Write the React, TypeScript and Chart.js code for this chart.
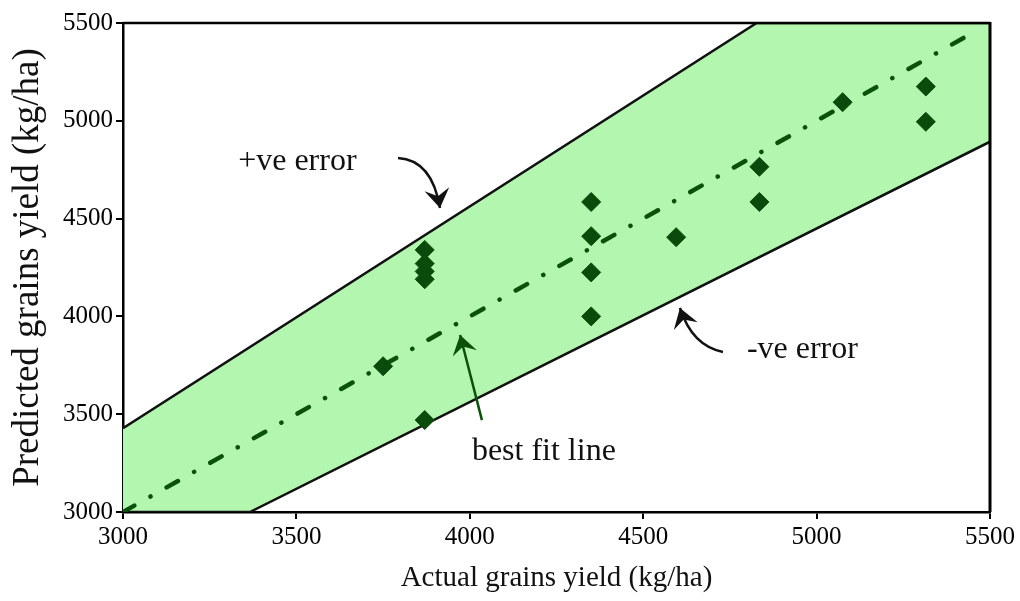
import React, { useEffect, useRef } from 'react';
import { Chart, registerables } from 'chart.js';

Chart.register(...registerables);

// Observed vs. predicted grain yield (kg/ha)
const actualYield = [3750, 3870, 3870, 3870, 3870, 3870, 4350, 4350, 4350, 4350, 4595, 4835, 4835, 5075, 5315, 5315];
const predictedYield = [3745, 3470, 4190, 4230, 4270, 4340, 4000, 4225, 4410, 4585, 4405, 4585, 4765, 5095, 4995, 5175];

// Error envelope (upper and lower bounds)
const upperErrorX = [3000, 4827, 5500];
const upperErrorY = [3428, 5500, 5500];
const lowerErrorX = [3000, 3366, 5500];
const lowerErrorY = [3000, 3000, 4893];

// 1:1 best fit line
const bestFitX = [3000, 5455];
const bestFitY = [3000, 5455];

const axisTicks = [3000, 3500, 4000, 4500, 5000, 5500];

const toPoints = (xs: number[], ys: number[]) => xs.map((x, i) => ({ x, y: ys[i] }));

const SERIF = "'Liberation Serif', 'Times New Roman', serif";
const BAND_GREEN = '#b3f6af';
const DARK_GREEN = '#0a520a';
const MARKER_GREEN = '#0a4a0a';

// Text notes and arrows, placed in data coordinates
const notes = [
  { text: '+ve error', x: 3332, y: 4749 },
  { text: '-ve error', x: 4799, y: 3787 },
  { text: 'best fit line', x: 4006, y: 3266 },
];

const arrows = [
  { from: [3793, 4810], ctrl: [3891, 4800], tip: [3914, 4554], color: '#111' },
  { from: [4730, 3818], ctrl: [4641, 3849], tip: [4606, 4043], color: '#111' },
  { from: [4035, 3470], ctrl: null, tip: [3972, 3905], color: DARK_GREEN },
];

function drawHead(ctx: CanvasRenderingContext2D, tx: number, ty: number, angle: number, color: string) {
  const len = 19;
  const half = 12.5;
  const notch = 7;
  ctx.save();
  ctx.translate(tx, ty);
  ctx.rotate(angle);
  ctx.beginPath();
  ctx.moveTo(0, 0);
  ctx.lineTo(-len, -half);
  ctx.lineTo(-len + notch, 0);
  ctx.lineTo(-len, half);
  ctx.closePath();
  ctx.fillStyle = color;
  ctx.fill();
  ctx.restore();
}

const notesPlugin = {
  id: 'notes',
  afterDatasetsDraw(chart: any) {
    const { ctx, chartArea, scales } = chart;
    const xs = scales.x;
    const ys = scales.y;

    // frame on the top and right sides
    ctx.save();
    ctx.strokeStyle = '#000';
    ctx.lineWidth = 2.5;
    ctx.beginPath();
    ctx.moveTo(chartArea.left, chartArea.top);
    ctx.lineTo(chartArea.right, chartArea.top);
    ctx.stroke();
    ctx.lineWidth = 3;
    ctx.beginPath();
    ctx.moveTo(chartArea.right, chartArea.top - 1);
    ctx.lineTo(chartArea.right, chartArea.bottom);
    ctx.stroke();
    ctx.restore();

    ctx.save();
    ctx.font = `32px ${SERIF}`;
    ctx.fillStyle = '#111';
    ctx.textBaseline = 'alphabetic';
    ctx.textAlign = 'left';
    notes.forEach((n) => {
      ctx.fillText(n.text, xs.getPixelForValue(n.x), ys.getPixelForValue(n.y));
    });

    arrows.forEach((a) => {
      const fx = xs.getPixelForValue(a.from[0]);
      const fy = ys.getPixelForValue(a.from[1]);
      const tx = xs.getPixelForValue(a.tip[0]);
      const ty = ys.getPixelForValue(a.tip[1]);
      let dirX = fx;
      let dirY = fy;
      ctx.strokeStyle = a.color;
      ctx.lineWidth = 2.5;
      ctx.beginPath();
      ctx.moveTo(fx, fy);
      if (a.ctrl) {
        const cx = xs.getPixelForValue(a.ctrl[0]);
        const cy = ys.getPixelForValue(a.ctrl[1]);
        ctx.quadraticCurveTo(cx, cy, tx, ty);
        dirX = cx;
        dirY = cy;
      } else {
        ctx.lineTo(tx, ty);
      }
      ctx.stroke();
      drawHead(ctx, tx, ty, Math.atan2(ty - dirY, tx - dirX), a.color);
    });
    ctx.restore();
  },
};

export default function App() {
  const canvasRef = useRef<HTMLCanvasElement | null>(null);

  useEffect(() => {
    document.body.style.margin = '0';
    const canvas = canvasRef.current;
    if (!canvas) return;

    const tickFont = { family: SERIF, size: 25 };

    const chart = new Chart(canvas, {
      type: 'line',
      data: {
        datasets: [
          {
            label: 'Error band',
            data: toPoints(upperErrorX, upperErrorY),
            borderColor: '#111',
            borderWidth: 2.5,
            backgroundColor: BAND_GREEN,
            fill: '+1',
            pointRadius: 0,
            tension: 0,
            order: 3,
          },
          {
            label: 'Lower bound',
            data: toPoints(lowerErrorX, lowerErrorY),
            borderColor: '#111',
            borderWidth: 2.5,
            fill: false,
            pointRadius: 0,
            tension: 0,
            order: 2,
          },
          {
            label: 'Best fit',
            data: toPoints(bestFitX, bestFitY),
            borderColor: DARK_GREEN,
            borderWidth: 4.5,
            borderDash: [13, 18.5, 0.1, 18.5],
            borderCapStyle: 'round',
            fill: false,
            pointRadius: 0,
            order: 1,
          },
          {
            label: 'Predicted',
            data: toPoints(actualYield, predictedYield),
            showLine: false,
            pointStyle: 'rectRot',
            pointRadius: 9.5,
            pointBackgroundColor: MARKER_GREEN,
            pointBorderColor: MARKER_GREEN,
            pointBorderWidth: 1,
            order: 0,
          },
        ],
      },
      options: {
        responsive: false,
        animation: false,
        events: [],
        layout: { padding: { left: 0, right: 30, top: 23, bottom: 0 } },
        plugins: { legend: { display: false }, tooltip: { enabled: false } },
        scales: {
          x: {
            type: 'linear',
            min: 3000,
            max: 5500,
            afterBuildTicks: (s: any) => {
              s.ticks = axisTicks.map((v) => ({ value: v }));
            },
            afterFit: (s: any) => {
              s.height = 89;
            },
            ticks: {
              color: '#000',
              font: tickFont,
              padding: 3,
              maxRotation: 0,
              callback: (v: any) => String(v),
            },
            grid: { drawOnChartArea: false, drawTicks: true, tickLength: 7, color: '#000', lineWidth: 2 },
            border: { color: '#000', width: 2.5 },
            title: {
              display: true,
              text: 'Actual grains yield (kg/ha)',
              color: '#111',
              font: { family: SERIF, size: 29 },
              padding: { top: 0, bottom: 5 },
            },
          },
          y: {
            type: 'linear',
            min: 3000,
            max: 5500,
            afterBuildTicks: (s: any) => {
              s.ticks = axisTicks.map((v) => ({ value: v }));
            },
            afterFit: (s: any) => {
              s.width = 123;
            },
            ticks: {
              color: '#000',
              font: tickFont,
              padding: 3,
              callback: (v: any) => String(v),
            },
            grid: { drawOnChartArea: false, drawTicks: true, tickLength: 7, color: '#000', lineWidth: 2 },
            border: { color: '#000', width: 2.5 },
            title: {
              display: true,
              text: 'Predicted grains yield (kg/ha)',
              color: '#111',
              font: { family: SERIF, size: 37 },
              padding: { top: 6, bottom: 0 },
            },
          },
        },
      },
      plugins: [notesPlugin],
    } as any);

    return () => chart.destroy();
  }, []);

  return (
    <div style={{ width: 1020, height: 601, background: '#fff' }}>
      <canvas ref={canvasRef} width={1020} height={601} />
    </div>
  );
}
